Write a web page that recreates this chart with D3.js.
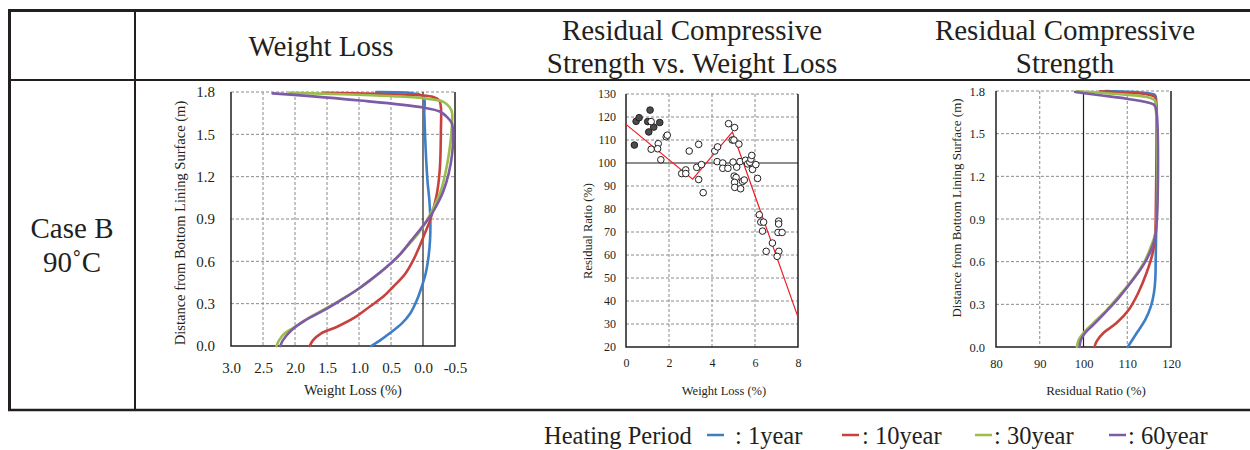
<!DOCTYPE html>
<html>
<head>
<meta charset="utf-8">
<script src="https://cdn.jsdelivr.net/npm/d3@7"></script>
<style>
  body { margin: 0; background: #fff; }
  svg { display: block; }
</style>
</head>
<body>
<svg id="vis" width="1250" height="450"></svg>
<script>
// ---- Data ----
var periods = ['1year', '10year', '30year', '60year'];

// Weight loss profiles: [weight loss (%), distance (m)]
var wl1year = [[0.81,0],[0.67,0.04],[0.52,0.09],[0.33,0.16],[0.2,0.23],[0.1,0.32],[0.02,0.42],[-0.04,0.51],[-0.08,0.61],[-0.11,0.75],[-0.115,0.89],[-0.1,1.03],[-0.07,1.17],[-0.04,1.41],[-0.02,1.65],[-0.01,1.765],[0.15,1.79],[0.73,1.8]];
var wl10year = [[1.77,0],[1.72,0.04],[1.59,0.09],[1.35,0.135],[1.04,0.21],[0.83,0.28],[0.62,0.35],[0.465,0.42],[0.28,0.51],[0.15,0.61],[0.06,0.7],[-0.03,0.8],[-0.11,0.89],[-0.17,0.985],[-0.225,1.1],[-0.265,1.27],[-0.28,1.53],[-0.28,1.69],[-0.255,1.74],[-0.16,1.765],[0.05,1.777],[0.73,1.788],[1.56,1.795]];
var wl30year = [[2.29,0],[2.25,0.04],[2.16,0.09],[2.0,0.135],[1.745,0.21],[1.46,0.28],[1.2,0.35],[0.96,0.42],[0.7,0.51],[0.44,0.61],[0.26,0.7],[0.07,0.8],[-0.06,0.89],[-0.17,0.985],[-0.28,1.1],[-0.37,1.27],[-0.42,1.41],[-0.45,1.55],[-0.455,1.65],[-0.42,1.69],[-0.32,1.73],[-0.06,1.753],[0.465,1.77],[1.25,1.784],[2.08,1.795]];
var wl60year = [[2.23,0],[2.19,0.04],[2.06,0.11],[1.85,0.18],[1.56,0.25],[1.3,0.32],[1.04,0.395],[0.83,0.465],[0.57,0.56],[0.36,0.65],[0.18,0.75],[0.02,0.84],[-0.1,0.91],[-0.2,0.985],[-0.32,1.1],[-0.4,1.22],[-0.455,1.36],[-0.47,1.5],[-0.45,1.58],[-0.38,1.62],[-0.27,1.66],[0.0,1.69],[0.99,1.74],[2.35,1.79]];

// Residual compressive strength profiles: [residual ratio (%), distance (m)]
var rcs1year = [[110.1,0],[112.2,0.1],[114.1,0.19],[115.4,0.285],[116.1,0.38],[116.4,0.47],[116.5,0.6],[116.5,1.76],[116.2,1.775],[113,1.79],[105,1.8]];
var rcs10year = [[102.5,0],[103.0,0.04],[104.6,0.1],[107.6,0.17],[110.3,0.26],[112.5,0.38],[114.4,0.52],[115.8,0.66],[116.4,0.8],[116.5,0.9],[116.5,1.73],[116.3,1.758],[114.4,1.777],[109.1,1.788],[103.8,1.798]];
var rcs30year = [[98.5,0],[98.9,0.05],[100.0,0.1],[102.3,0.17],[105.3,0.26],[108.7,0.38],[111.8,0.5],[114.1,0.61],[115.7,0.73],[116.5,0.81],[116.5,1.7],[116.3,1.734],[114.4,1.758],[106.8,1.781],[98.5,1.798]];
var rcs60year = [[99.1,0],[99.4,0.05],[100.4,0.1],[102.3,0.157],[104.9,0.24],[108.0,0.344],[111.0,0.46],[113.7,0.577],[115.6,0.694],[116.5,0.8],[116.5,1.683],[116.0,1.706],[109.9,1.746],[103.8,1.77],[98.1,1.793]];

// Scatter: [weight loss (%), residual ratio (%)]
var filledPts = [[0.39,107.8],[0.47,118.1],[0.61,119.7],[1.01,118],[1.06,113.5],[1.12,123],[1.29,115.6],[1.57,117.6]];
var openPts = [[1.17,118],[1.17,106],[1.5,108.4],[1.47,106.2],[1.62,101.4],[1.87,111.4],[1.92,112.1],[2.59,95.4],[2.78,97],[2.78,95.4],[2.94,105.2],[3.29,98.1],[3.38,108.1],[3.38,92.8],[3.51,99.3],[3.59,87.1],[4.13,105.2],[4.26,107],[4.24,100.6],[4.5,100],[4.5,97.7],[4.74,97.7],[4.77,117.1],[4.94,110],[5.02,110],[5.05,115.4],[4.98,100.4],[5.25,108.2],[5.03,94.3],[5.12,93.7],[5.05,91.6],[5.06,89.4],[5.15,98.2],[5.3,100.6],[5.33,88.8],[5.42,92],[5.5,92.6],[5.56,101.2],[5.66,99.6],[5.76,100.3],[5.81,101.7],[5.85,103.3],[5.88,97.2],[6.04,99.3],[6.12,93.3],[6.2,77.5],[6.27,74.3],[6.4,74.3],[6.35,70.4],[6.52,61.6],[6.81,65.2],[7.1,74.7],[7.1,73.5],[7.07,69.8],[7.26,69.8],[7.11,61.6],[7.03,59.4]];
var fitLine = [[0,116.8],[3.1,93],[4.95,113.5],[8,33]];

// Ticks
var wlTicks = [3.0, 2.5, 2.0, 1.5, 1.0, 0.5, 0.0, -0.5];
var wlTickLabels = ['3.0', '2.5', '2.0', '1.5', '1.0', '0.5', '0.0', '-0.5'];
var depthTicks = [0, 0.3, 0.6, 0.9, 1.2, 1.5, 1.8];
var depthTickLabels = ['0.0', '0.3', '0.6', '0.9', '1.2', '1.5', '1.8'];
var lossTicks = [0, 2, 4, 6, 8];
var ratioTicks = [20, 30, 40, 50, 60, 70, 80, 90, 100, 110, 120, 130];
var rcsTicks = [80, 90, 100, 110, 120];

// ---- Style ----
var ink = '#231f20';
var gridColor = '#8a8a8a';
var serif = '"Liberation Serif", "Times New Roman", serif';
var colors = {'1year': '#3e7ec6', '10year': '#c8413e', '30year': '#9bbd4c', '60year': '#7e5ba7'};

var svg = d3.select('#vis');

// ---- Table ----
function rule(x1, y1, x2, y2, w) {
  svg.append('line')
    .attr('x1', x1).attr('y1', y1).attr('x2', x2).attr('y2', y2)
    .attr('stroke', ink).attr('stroke-width', w);
}
rule(8, 10.5, 1250, 10.5, 3);
rule(8, 80, 1250, 80, 2);
rule(8, 410, 1250, 410, 2.5);
rule(9.5, 9, 9.5, 411, 3);
rule(135, 10, 135, 410, 2);

function label(x, y, txt, size, anchor) {
  return svg.append('text')
    .attr('x', x).attr('y', y)
    .attr('font-family', serif).attr('font-size', size)
    .attr('text-anchor', anchor || 'middle')
    .attr('fill', ink)
    .text(txt);
}

// Header cells
label(321, 56, 'Weight Loss', 29);
label(692, 40, 'Residual Compressive', 29);
label(692, 73, 'Strength vs. Weight Loss', 29);
label(1065, 40, 'Residual Compressive', 29);
label(1065, 73, 'Strength', 29);

// Row label
label(72, 238, 'Case B', 29);
label(72, 272, '90\u02daC', 29);

// ---- Chart helper ----
function panel(x, y, opt) {
  var g = svg.append('g');
  var xr = x.range(), yr = y.range();
  var left = Math.min(xr[0], xr[1]), right = Math.max(xr[0], xr[1]);
  var bottom = yr[0], top = yr[1];

  // dashed grid
  g.selectAll(null)
    .data(opt.xTicks.filter(function(t) { return t !== opt.xRef && x(t) > left + 1 && x(t) < right - 1; }))
    .enter().append('line')
    .attr('x1', function(d) { return x(d); }).attr('x2', function(d) { return x(d); })
    .attr('y1', top).attr('y2', bottom)
    .attr('stroke', gridColor).attr('stroke-width', 1).attr('stroke-dasharray', '3,2');

  g.selectAll(null)
    .data(opt.yTicks.filter(function(t) { return t !== opt.yRef && y(t) < bottom - 1; }))
    .enter().append('line')
    .attr('x1', left).attr('x2', right)
    .attr('y1', function(d) { return y(d); }).attr('y2', function(d) { return y(d); })
    .attr('stroke', gridColor).attr('stroke-width', 1).attr('stroke-dasharray', '3,2');

  // reference lines
  if (opt.xRef !== undefined) {
    g.append('line')
      .attr('x1', x(opt.xRef)).attr('x2', x(opt.xRef)).attr('y1', top).attr('y2', bottom)
      .attr('stroke', ink).attr('stroke-width', 1.2);
  }
  if (opt.yRef !== undefined) {
    g.append('line')
      .attr('x1', left).attr('x2', right).attr('y1', y(opt.yRef)).attr('y2', y(opt.yRef))
      .attr('stroke', ink).attr('stroke-width', 1.2);
  }

  // frame: left, bottom, right
  g.append('path')
    .attr('d', 'M' + left + ',' + top + 'V' + bottom + 'H' + right + 'V' + top)
    .attr('fill', 'none').attr('stroke', ink).attr('stroke-width', 1.5);

  // axes
  var xAxis = g.append('g')
    .attr('transform', 'translate(0,' + bottom + ')')
    .call(d3.axisBottom(x).tickValues(opt.xTicks).tickSize(0).tickPadding(opt.xPad)
      .tickFormat(function(d, i) { return opt.xLabels ? opt.xLabels[i] : d; }));
  xAxis.select('.domain').remove();
  xAxis.attr('font-family', serif).attr('font-size', opt.tickSize);
  xAxis.selectAll('text').attr('fill', ink);

  var yAxis = g.append('g')
    .attr('transform', 'translate(' + left + ',0)')
    .call(d3.axisLeft(y).tickValues(opt.yTicks).tickSize(0).tickPadding(opt.yPad)
      .tickFormat(function(d, i) { return opt.yLabels ? opt.yLabels[i] : d; }));
  yAxis.select('.domain').remove();
  yAxis.attr('font-family', serif).attr('font-size', opt.tickSize);
  yAxis.selectAll('text').attr('fill', ink);

  // axis titles
  label(opt.xTitlePos[0], opt.xTitlePos[1], opt.xTitle, opt.titleSize);
  label(0, 0, opt.yTitle, opt.titleSize)
    .attr('transform', 'translate(' + opt.yTitlePos[0] + ',' + opt.yTitlePos[1] + ') rotate(-90)');

  return g;
}

// ---- Chart 1: Weight Loss ----
var x1 = d3.scaleLinear().domain([3.0, -0.5]).range([231, 455]);
var y1 = d3.scaleLinear().domain([0, 1.8]).range([346, 92]);
var g1 = panel(x1, y1, {
  xTicks: wlTicks, xLabels: wlTickLabels, yTicks: depthTicks, yLabels: depthTickLabels,
  xRef: 0, xPad: 16, yPad: 16, tickSize: 15,
  xTitle: 'Weight Loss (%)', xTitlePos: [353, 395],
  yTitle: 'Distance from Bottom Lining Surface (m)', yTitlePos: [185, 223], titleSize: 14.5
});
var line1 = d3.line()
  .x(function(d) { return x1(d[0]); })
  .y(function(d) { return y1(d[1]); })
  .curve(d3.curveCatmullRom.alpha(0.5));
var wlSeries = [wl1year, wl10year, wl30year, wl60year];
wlSeries.forEach(function(s, i) {
  g1.append('path').datum(s)
    .attr('fill', 'none')
    .attr('stroke', colors[periods[i]])
    .attr('stroke-width', 2.6)
    .attr('stroke-linecap', 'round')
    .attr('d', line1);
});

// ---- Chart 2: Residual Compressive Strength vs. Weight Loss ----
var x2 = d3.scaleLinear().domain([0, 8]).range([626, 798]);
var y2 = d3.scaleLinear().domain([20, 130]).range([347, 94]);
var g2 = panel(x2, y2, {
  xTicks: lossTicks, yTicks: ratioTicks,
  yRef: 100, xPad: 11, yPad: 10, tickSize: 12,
  xTitle: 'Weight Loss (%)', xTitlePos: [724, 395],
  yTitle: 'Residual Ratio (%)', yTitlePos: [592, 231], titleSize: 12.5
});
var line2 = d3.line()
  .x(function(d) { return x2(d[0]); })
  .y(function(d) { return y2(d[1]); });
g2.append('path').datum(fitLine)
  .attr('fill', 'none').attr('stroke', '#ee1c24').attr('stroke-width', 1.2)
  .attr('d', line2);
g2.selectAll('circle.filled').data(filledPts).enter().append('circle')
  .attr('class', 'filled')
  .attr('cx', function(d) { return x2(d[0]); })
  .attr('cy', function(d) { return y2(d[1]); })
  .attr('r', 3.3)
  .attr('fill', '#4d4b4c').attr('stroke', ink).attr('stroke-width', 1);
g2.selectAll('circle.open').data(openPts).enter().append('circle')
  .attr('class', 'open')
  .attr('cx', function(d) { return x2(d[0]); })
  .attr('cy', function(d) { return y2(d[1]); })
  .attr('r', 3.3)
  .attr('fill', '#fff').attr('stroke', ink).attr('stroke-width', 1);

// ---- Chart 3: Residual Compressive Strength ----
var x3 = d3.scaleLinear().domain([80, 120]).range([996, 1171]);
var y3 = d3.scaleLinear().domain([0, 1.8]).range([347, 91]);
var g3 = panel(x3, y3, {
  xTicks: rcsTicks, yTicks: depthTicks, yLabels: depthTickLabels,
  xRef: 100, xPad: 12, yPad: 11, tickSize: 12.5,
  xTitle: 'Residual Ratio (%)', xTitlePos: [1096, 395],
  yTitle: 'Distance from Bottom Lining Surface (m)', yTitlePos: [961, 208], titleSize: 13
});
var line3 = d3.line()
  .x(function(d) { return x3(d[0]); })
  .y(function(d) { return y3(d[1]); })
  .curve(d3.curveCatmullRom.alpha(0.5));
var rcsSeries = [rcs1year, rcs10year, rcs30year, rcs60year];
rcsSeries.forEach(function(s, i) {
  g3.append('path').datum(s)
    .attr('fill', 'none')
    .attr('stroke', colors[periods[i]])
    .attr('stroke-width', 2.6)
    .attr('stroke-linecap', 'round')
    .attr('d', line3);
});

// ---- Legend ----
var legend = svg.append('g');
label(544, 444, 'Heating Period', 24.5, 'start');
var legendDashX = [707, 842, 975, 1109];
var legendTextX = [735, 862, 994, 1128];
periods.forEach(function(p, i) {
  legend.append('line')
    .attr('x1', legendDashX[i]).attr('x2', legendDashX[i] + 17)
    .attr('y1', 435).attr('y2', 435)
    .attr('stroke', colors[p]).attr('stroke-width', 2.5);
  label(legendTextX[i], 444, (i === 0 ? ': ' : ': ') + p, 24.5, 'start');
});
</script>
</body>
</html>
